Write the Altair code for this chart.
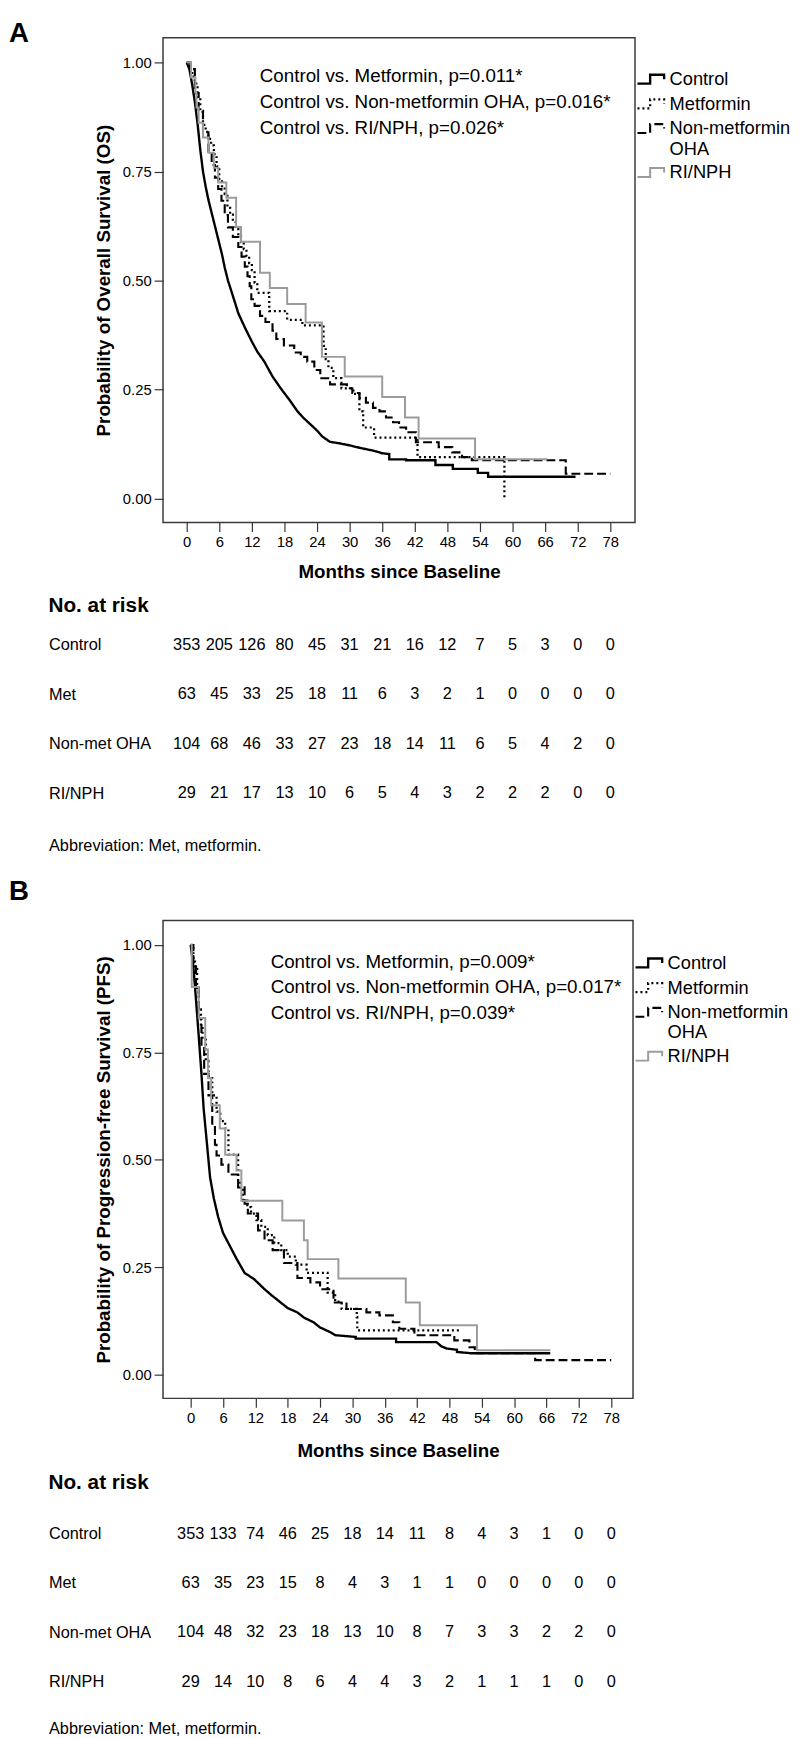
import altair as alt
import pandas as pd

FONT = "Liberation Sans"
groups = ["Control", "Metformin", "Non-metformin OHA", "RI/NPH"]
tick_months = [0, 6, 12, 18, 24, 30, 36, 42, 48, 54, 60, 66, 72, 78]
surv_ticks = [0.0, 0.25, 0.5, 0.75, 1.0]
risk_labels = ["Control", "Met", "Non-met OHA", "RI/NPH"]

# ---------------- Panel A (overall survival) ----------------
a_control_t = [0, 0.5, 1.0, 1.5, 2.0, 2.5, 3.0, 3.5, 4.0, 4.5, 5.0, 5.5, 6.0, 6.5, 7.0,
               7.6, 8.5, 9.5, 10.8, 12.0, 13.0, 14.3, 15.8, 17.3, 19.0, 20.4, 21.5, 22.8, 24.0,
               25.0, 26.4, 28.0, 30.0, 32.0, 34.3, 36.0, 37.3,
               37.3, 40.4, 40.4, 45.8, 45.8, 49.0, 49.0, 53.6, 53.6, 55.5, 55.5, 71.6]
a_control_s = [1.0, 0.985, 0.95, 0.91, 0.86, 0.80, 0.75, 0.715, 0.685, 0.66, 0.635, 0.61, 0.585, 0.56, 0.53,
               0.50, 0.465, 0.425, 0.39, 0.36, 0.337, 0.314, 0.28, 0.253, 0.225, 0.20, 0.185, 0.17, 0.156,
               0.142, 0.13, 0.127, 0.122, 0.116, 0.11, 0.104, 0.102,
               0.09, 0.09, 0.088, 0.088, 0.077, 0.077, 0.068, 0.068, 0.059, 0.059, 0.05, 0.05]
a_met_t = [0, 0.5, 1.0, 1.5, 2.0, 2.5, 3.0, 3.5, 4.0, 4.5, 5.0, 5.5, 6.0, 6.5, 7.0, 7.5, 8.0, 8.5,
           9.0, 9.5, 10.0, 10.5, 11.0, 11.5, 12.0, 12.5, 13.0,
           15.2, 18.5, 21.3, 25.2, 25.6, 26.1, 27.0, 28.5, 30.7, 31.8, 32.5, 34.5, 42.5, 58.5]
a_met_s = [1.0, 0.984, 0.968, 0.952, 0.921, 0.889, 0.857, 0.841, 0.825, 0.81, 0.79, 0.762, 0.73, 0.714,
           0.698, 0.667, 0.651, 0.635, 0.62, 0.604, 0.588, 0.572, 0.556, 0.54, 0.524, 0.495, 0.472,
           0.43, 0.41, 0.397, 0.35, 0.32, 0.30, 0.276, 0.253, 0.24, 0.20, 0.163, 0.14, 0.095, 0.0]
a_nonmet_t = [0, 0.7, 1.5, 2.2, 3.0, 4.0, 4.6, 5.2, 5.8, 6.4, 7.0, 7.6, 8.5, 9.5, 10.1, 10.7, 11.2, 11.6,
              11.9, 12.5, 13.5, 14.5, 15.8, 16.5, 17.9, 19.8, 21.0, 22.2, 23.5, 24.6, 26.4, 29.5, 30.5,
              31.8, 33.0, 34.3, 35.5, 36.7, 38.0, 39.1, 40.4, 42.2, 46.4, 48.9, 50.7, 52.5, 69.8, 78.0]
a_nonmet_s = [1.0, 0.985, 0.93, 0.887, 0.84, 0.796, 0.765, 0.736, 0.71, 0.683, 0.65, 0.622, 0.6, 0.577,
              0.555, 0.532, 0.51, 0.487, 0.457, 0.442, 0.419, 0.405, 0.385, 0.366, 0.351, 0.335, 0.325,
              0.314, 0.295, 0.276, 0.262, 0.253, 0.242, 0.231, 0.22, 0.208, 0.2, 0.186, 0.175, 0.163,
              0.152, 0.129, 0.118, 0.106, 0.095, 0.088, 0.057, 0.057]
a_ri_t = [0, 0.8, 1.6, 1.8, 2.2, 3.0, 4.0, 5.0, 5.8, 7.3, 9.1, 10.0, 13.5, 15.3, 18.5, 21.9, 24.9,
          29.1, 36.0, 40.2, 42.7, 53.1, 66.4]
a_ri_s = [1.0, 0.966, 0.931, 0.897, 0.862, 0.828, 0.793, 0.759, 0.725, 0.69, 0.623, 0.589, 0.518,
          0.483, 0.446, 0.404, 0.325, 0.28, 0.233, 0.186, 0.138, 0.09, 0.09]
a_pvals = ["Control vs. Metformin, p=0.011*",
           "Control vs. Non-metformin OHA, p=0.016*",
           "Control vs. RI/NPH, p=0.026*"]
a_risk_control = [353, 205, 126, 80, 45, 31, 21, 16, 12, 7, 5, 3, 0, 0]
a_risk_met = [63, 45, 33, 25, 18, 11, 6, 3, 2, 1, 0, 0, 0, 0]
a_risk_nonmet = [104, 68, 46, 33, 27, 23, 18, 14, 11, 6, 5, 4, 2, 0]
a_risk_ri = [29, 21, 17, 13, 10, 6, 5, 4, 3, 2, 2, 2, 0, 0]

# ---------------- Panel B (progression-free survival) ----------------
b_control_t = [0, 0.5, 1.0, 1.5, 2.0, 2.4, 3.0, 3.6, 4.3, 5.1, 6.0, 7.0, 8.5, 10.0, 11.8, 13.7,
               15.0, 16.7, 18.0, 19.8, 21.0, 22.8, 24.0, 25.9, 26.8, 30.6, 30.6, 38.1, 38.1, 45.6,
               46.5, 47.5, 49.4, 49.4, 52.0, 66.7]
b_control_s = [1.0, 0.95, 0.87, 0.787, 0.70, 0.62, 0.54, 0.459, 0.41, 0.367, 0.33, 0.306, 0.27,
               0.237, 0.222, 0.199, 0.185, 0.168, 0.155, 0.145, 0.133, 0.122, 0.11, 0.099, 0.092,
               0.088, 0.084, 0.084, 0.076, 0.076, 0.066, 0.061, 0.058, 0.053, 0.05, 0.05]
b_met_t = [0, 0.5, 0.8, 1.2, 1.5, 1.9, 2.2, 2.8, 3.3, 4.0, 4.8, 5.5, 6.4, 7.0, 8.8, 9.2, 9.7, 10.5,
           11.2, 12.2, 13.1, 14.3, 15.5, 16.8, 18.0, 19.5, 21.5, 25.4, 26.8, 28.0, 30.8, 30.9, 49.8]
b_met_s = [1.0, 0.97, 0.95, 0.9, 0.85, 0.81, 0.78, 0.73, 0.69, 0.65, 0.612, 0.59, 0.573, 0.512,
           0.451, 0.43, 0.405, 0.39, 0.375, 0.36, 0.344, 0.325, 0.306, 0.29, 0.275, 0.256, 0.237,
           0.191, 0.17, 0.153, 0.134, 0.103, 0.103]
b_nonmet_t = [0, 0.5, 1.0, 1.5, 2.0, 2.5, 3.3, 4.0, 4.5, 4.8, 5.7, 7.0, 8.8, 10.0, 10.6, 12.5, 13.7,
              15.2, 17.3, 19.8, 22.2, 24.0, 26.5, 28.9, 32.6, 35.0, 37.5, 38.7, 41.5, 48.9, 51.7,
              52.7, 63.9, 78.0]
b_nonmet_s = [1.0, 0.96, 0.9, 0.83, 0.76, 0.7, 0.65, 0.58, 0.535, 0.51, 0.489, 0.466, 0.436, 0.398,
              0.375, 0.336, 0.313, 0.29, 0.26, 0.225, 0.215, 0.199, 0.168, 0.153, 0.145, 0.138,
              0.122, 0.107, 0.092, 0.08, 0.064, 0.05, 0.034, 0.034]
b_ri_t = [0, 0.2, 1.5, 2.7, 3.2, 3.8, 5.4, 6.4, 8.5, 9.4, 17.0, 21.0, 21.7, 27.4, 39.9, 42.5, 53.1, 66.7]
b_ri_s = [1.0, 0.902, 0.83, 0.757, 0.69, 0.627, 0.573, 0.512, 0.475, 0.405, 0.359, 0.313, 0.269,
          0.224, 0.168, 0.115, 0.057, 0.057]
b_pvals = ["Control vs. Metformin, p=0.009*",
           "Control vs. Non-metformin OHA, p=0.017*",
           "Control vs. RI/NPH, p=0.039*"]
b_risk_control = [353, 133, 74, 46, 25, 18, 14, 11, 8, 4, 3, 1, 0, 0]
b_risk_met = [63, 35, 23, 15, 8, 4, 3, 1, 1, 0, 0, 0, 0, 0]
b_risk_nonmet = [104, 48, 32, 23, 18, 13, 10, 8, 7, 3, 3, 2, 2, 0]
b_risk_ri = [29, 14, 10, 8, 6, 4, 4, 3, 2, 1, 1, 1, 0, 0]

LINE_COLORS = ["#000000", "#000000", "#000000", "#9b9b9b"]
LINE_DASHES = [[1, 0], [2, 3], [9, 4], [1, 0]]
LINE_WIDTHS = [2.4, 2.0, 2.2, 2.0]


def km_panel(letter, letter_y, ytitle, curves, pvals, xdom, width, height,
             xtitle_pad, text_x, text_ys, legend_y):
    rows = []
    for g, (ts, ss) in zip(groups, curves):
        for i, (t, s) in enumerate(zip(ts, ss)):
            rows.append({"g": g, "t": t, "s": s, "i": i})
    df = pd.DataFrame(rows)

    leg = alt.Legend(
        title=None, orient="none", legendX=width + 1, legendY=legend_y, padding=0,
        symbolType="M-1,0.33H-0.05V-0.33H1V0.0", symbolSize=729, symbolStrokeWidth=2,
        symbolFillColor="transparent", labelFont=FONT, labelFontSize=18.5, labelColor="black",
        labelLimit=300, labelOffset=4, rowPadding=-5,
        labelExpr="datum.label == 'Non-metformin OHA' ? ['Non-metformin', 'OHA'] : datum.label",
    )
    x = alt.X("t:Q", scale=alt.Scale(domain=xdom, nice=False, zero=False),
              axis=alt.Axis(values=tick_months, title="Months since Baseline", tickSize=9,
                            labelPadding=3, titlePadding=xtitle_pad, labelFontSize=15,
                            titleFontSize=19, titleFontWeight="bold", domain=False, grid=False,
                            labelFlush=False, labelOverlap=False))
    y = alt.Y("s:Q", scale=alt.Scale(domain=[-0.055, 1.057], nice=False, zero=False),
              axis=alt.Axis(values=surv_ticks, format=".2f", title=ytitle, tickSize=9,
                            labelPadding=3, titlePadding=9, labelFontSize=15,
                            titleFontSize=19, titleFontWeight="bold", domain=False, grid=False))
    enc = dict(
        x=x, y=y,
        color=alt.Color("g:N", scale=alt.Scale(domain=groups, range=LINE_COLORS), legend=leg),
        strokeDash=alt.StrokeDash("g:N", scale=alt.Scale(domain=groups, range=LINE_DASHES), legend=leg),
        strokeWidth=alt.StrokeWidth("g:N", scale=alt.Scale(domain=groups, range=LINE_WIDTHS), legend=None),
        detail="g:N",
        order=alt.Order("i:Q"),
    )
    base = alt.Chart(df)
    ctrl = base.transform_filter(alt.datum.g == "Control").mark_line(interpolate="linear").encode(**enc)
    rest = base.transform_filter(alt.datum.g != "Control").mark_line(interpolate="step-after").encode(**enc)
    texts = [
        alt.Chart(pd.DataFrame({"label": [p]})).mark_text(
            align="left", baseline="middle", font=FONT, fontSize=19, color="black"
        ).encode(x=alt.value(text_x), y=alt.value(ty), text="label:N")
        for p, ty in zip(pvals, text_ys)
    ]
    letter_mark = alt.Chart(pd.DataFrame({"label": [letter]})).mark_text(
        align="left", baseline="top", font=FONT, fontSize=28, fontWeight="bold", color="black"
    ).encode(x=alt.value(-156), y=alt.value(letter_y), text="label:N")
    return alt.layer(ctrl, rest, *texts, letter_mark).properties(
        width=width, height=height,
        view=alt.ViewBackground(stroke="#3a3a3a", strokeWidth=1.5),
    )


def risk_table(values_rows, xdom, width, title_offset, abbrev_pad):
    rows = []
    for lab, vals in zip(risk_labels, values_rows):
        for m, v in zip(tick_months, vals):
            rows.append({"grp": lab, "m": m, "n": v})
    df = pd.DataFrame(rows)
    return alt.Chart(df).mark_text(
        font=FONT, fontSize=16.5, color="black", baseline="middle", align="center"
    ).encode(
        x=alt.X("m:Q", scale=alt.Scale(domain=xdom, nice=False, zero=False),
                axis=alt.Axis(labels=False, ticks=False, domain=False, grid=False,
                              title="Abbreviation: Met, metformin.", titleX=-116, titleAlign="left",
                              titleAnchor="start", titlePadding=abbrev_pad, titleFontSize=16.5,
                              titleFontWeight="normal", titleBaseline="top")),
        y=alt.Y("grp:N", sort=risk_labels, scale=alt.Scale(type="point", padding=0.5),
                axis=alt.Axis(title=None, ticks=False, tickSize=0, domain=False, labelAlign="left",
                              labelPadding=116, labelFontSize=16.5, grid=False)),
        text="n:Q",
    ).properties(
        width=width, height=200,
        title=alt.TitleParams("No. at risk", anchor="start", frame="bounds", fontSize=21,
                              fontWeight="bold", offset=title_offset, font=FONT, color="black"),
        view=alt.ViewBackground(stroke=None),
    )


a_dom = [-4.36, 82.55]
b_dom = [-5.13, 82.05]

a_plot = km_panel("A", -18, "Probability of Overall Survival (OS)",
                  [(a_control_t, a_control_s), (a_met_t, a_met_s),
                   (a_nonmet_t, a_nonmet_s), (a_ri_t, a_ri_s)],
                  a_pvals, a_dom, 478, 491, 14, 98, [39, 65, 91], 27)
a_table = risk_table([a_risk_control, a_risk_met, a_risk_nonmet, a_risk_ri], a_dom, 478, 4.5, 19.75)

b_plot = km_panel("B", -43, "Probability of Progression-free Survival (PFS)",
                  [(b_control_t, b_control_s), (b_met_t, b_met_s),
                   (b_nonmet_t, b_nonmet_s), (b_ri_t, b_ri_s)],
                  b_pvals, b_dom, 476, 484, 17, 109, [42, 67, 94], 28)
b_table = risk_table([b_risk_control, b_risk_met, b_risk_nonmet, b_risk_ri], b_dom, 476, 16.5, 14.75)

indep = dict(color="independent", strokeDash="independent", strokeWidth="independent")
top_a = alt.vconcat(a_plot, a_table, spacing=12).resolve_scale(**indep).resolve_legend(
    color="independent", strokeDash="independent")
top_b = alt.vconcat(b_plot, b_table, spacing=10).resolve_scale(**indep).resolve_legend(
    color="independent", strokeDash="independent")

chart = alt.vconcat(top_a, top_b, spacing=23).resolve_scale(**indep).resolve_legend(
    color="independent", strokeDash="independent"
).properties(padding=0).configure(font=FONT).configure_view(stroke=None).configure_axis(
    labelColor="black", titleColor="black", tickColor="#333333", tickWidth=1.2,
    labelFont=FONT, titleFont=FONT,
)

chart.save("out.html", embed_options={"renderer": "svg", "actions": False})
